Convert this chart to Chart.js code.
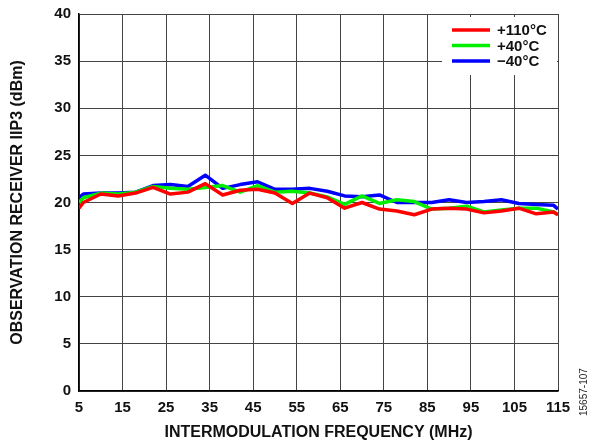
<!DOCTYPE html>
<html>
<head>
<meta charset="utf-8">
<script src="https://cdn.jsdelivr.net/npm/chart.js@4/dist/chart.umd.min.js"></script>
<style>
  html, body { margin: 0; padding: 0; background: #fff; }
  #wrap { position: relative; width: 598px; height: 442px; }
  #side { position: absolute; left: 578px; top: 416px; transform-origin: 0 0; transform: rotate(-90deg);
          font: 10px "Liberation Sans", Arial, sans-serif; color: #222; white-space: nowrap; }
</style>
</head>
<body>
<div id="wrap">
  <canvas id="iip3Chart" width="598" height="442"></canvas>
  <div id="side">15657-107</div>
</div>
<script>
// IIP3 vs intermodulation frequency, three temperatures
const freqs = [5, 6, 10, 14, 18, 22, 26, 30, 34, 38, 42, 46, 50, 54, 58, 62, 66, 70, 74, 78, 82, 86, 90, 94, 98, 102, 106, 110, 114, 115];
const hot  = [19.4, 20.0, 20.9, 20.7, 21.0, 21.6, 20.9, 21.1, 22.0, 20.8, 21.3, 21.4, 21.0, 19.9, 21.0, 20.5, 19.4, 20.0, 19.3, 19.1, 18.7, 19.3, 19.4, 19.3, 18.9, 19.1, 19.4, 18.8, 19.0, 18.7];
const room = [20.0, 20.5, 21.0, 20.9, 21.1, 21.7, 21.5, 21.4, 21.6, 21.8, 21.1, 21.8, 21.1, 21.2, 21.0, 20.6, 19.8, 20.7, 19.9, 20.3, 20.1, 19.3, 19.4, 19.6, 19.0, 19.2, 19.4, 19.4, 19.0, 18.7];
const cold = [20.5, 20.9, 21.0, 21.0, 21.1, 21.8, 21.9, 21.7, 22.9, 21.5, 21.9, 22.2, 21.4, 21.4, 21.5, 21.2, 20.7, 20.6, 20.8, 20.0, 20.0, 20.0, 20.3, 20.0, 20.1, 20.3, 19.9, 19.8, 19.7, 19.3];
const labels = ['+110°C', '+40°C', '\u221240°C'];
const colours = ['#ff0000', '#00ee00', '#0000ff'];

function toPoints(ys){
    var pts = [];
    for(var i=0; i<freqs.length; i++){
        pts.push({x: freqs[i], y: ys[i]});
    }
    return pts;
}

const font = '"Liberation Sans", Arial, sans-serif';

// legend drawn inside the plot, top right
const insideLegend = {
    id: 'insideLegend',
    afterDatasetsDraw(chart){
        const ctx = chart.ctx;
        const area = chart.chartArea;
        const x0 = area.right - 116, y0 = area.top + 3;
        ctx.save();
        ctx.fillStyle = '#fff';
        ctx.fillRect(x0, y0, 115, 58);
        ctx.font = 'bold 15px ' + font;
        ctx.textBaseline = 'middle';
        chart.data.datasets.forEach(function(ds, i){
            const y = y0 + 13 + i * 15.5;
            ctx.strokeStyle = ds.borderColor;
            ctx.lineWidth = 3.5;
            ctx.beginPath();
            ctx.moveTo(x0 + 10, y);
            ctx.lineTo(x0 + 48, y);
            ctx.stroke();
            ctx.fillStyle = '#111';
            ctx.fillText(ds.label, x0 + 55, y + 1);
        });
        ctx.restore();
    }
};

const ctx = document.getElementById('iip3Chart').getContext('2d');
const iip3Chart = new Chart(ctx, {
    type: 'line',
    data: {
        datasets: [
            { label: labels[0], data: toPoints(hot),  borderColor: colours[0] },
            { label: labels[1], data: toPoints(room), borderColor: colours[1] },
            { label: labels[2], data: toPoints(cold), borderColor: colours[2] }
        ]
    },
    options: {
        responsive: false,
        animation: false,
        devicePixelRatio: 1,
        layout: { padding: { left: 0, right: 40, top: 14, bottom: 0 } },
        elements: {
            point: { radius: 0 },
            line: { borderWidth: 3.5, tension: 0, borderJoinStyle: 'round' }
        },
        plugins: {
            legend: { display: false },
            tooltip: { enabled: false }
        },
        scales: {
            x: {
                type: 'linear',
                min: 5,
                max: 115,
                afterFit: function(s){ s.height = 51; s.paddingLeft = 0; s.paddingRight = 0; },
                ticks: { stepSize: 10, color: '#111', padding: 8, font: { family: font, size: 15, weight: 'bold' } },
                grid: { color: '#444', lineWidth: 1, drawTicks: false },
                border: { color: '#000', width: 1.5 },
                title: { display: true, text: 'INTERMODULATION FREQUENCY (MHz)', color: '#111',
                         padding: { top: 4, bottom: 0 }, font: { family: font, size: 16, weight: 'bold' } }
            },
            y: {
                min: 0,
                max: 40,
                afterFit: function(s){ s.width = 79; s.paddingTop = 0; s.paddingBottom = 0; },
                ticks: { stepSize: 5, color: '#111', padding: 8, font: { family: font, size: 15, weight: 'bold' } },
                grid: { color: '#444', lineWidth: 1, drawTicks: false },
                border: { color: '#000', width: 1.5 },
                title: { display: true, text: 'OBSERVATION RECEIVER IIP3 (dBm)', color: '#111',
                         padding: { top: 8, bottom: 0 }, font: { family: font, size: 16, weight: 'bold' } }
            }
        }
    },
    plugins: [insideLegend]
});
</script>
</body>
</html>
